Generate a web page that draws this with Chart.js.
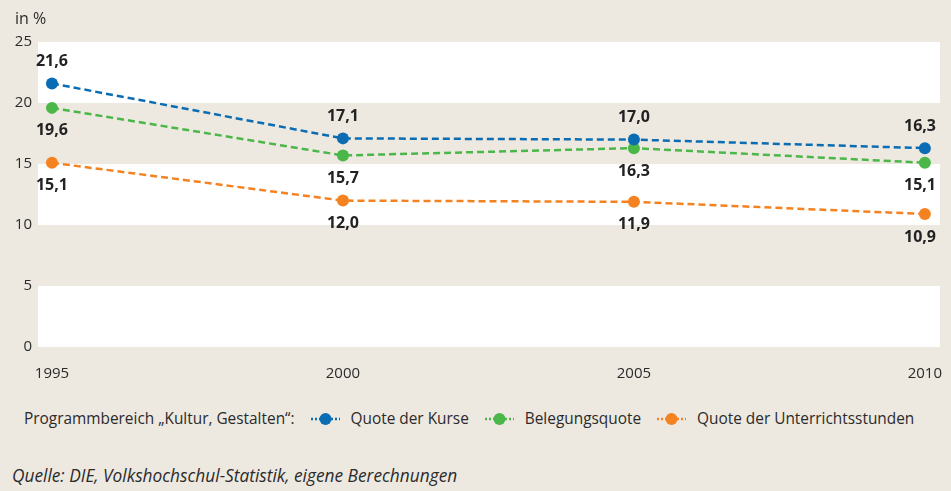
<!DOCTYPE html>
<html lang="de">
<head>
<meta charset="utf-8">
<title>Programmbereich Kultur, Gestalten</title>
<script src="https://cdn.jsdelivr.net/npm/chart.js@4.4.1/dist/chart.umd.min.js"></script>
<style>
  html, body { margin: 0; padding: 0; background: #EDE9E1; }
  body { width: 951px; height: 491px; position: relative; overflow: hidden; font-family: "Open Sans", "Noto Sans", sans-serif; color: #2b2b2b; }
  #chart-box { position: absolute; left: 0; top: 0; width: 951px; height: 392px; }
  #unit { position: absolute; left: 15px; top: 7px; font-size: 16px; }
  #legend { position: absolute; left: 24px; top: 408px; display: flex; align-items: center; font-size: 15.4px; white-space: nowrap; }
  #legend .item { display: flex; align-items: center; margin-left: 15px; }
  #legend svg { margin-right: 10px; }
  #source { position: absolute; left: 12px; top: 464px; font-size: 17.3px; font-style: italic; }
</style>
</head>
<body>
<div id="chart-box"><canvas id="chart" width="951" height="392"></canvas></div>
<div id="unit">in %</div>
<div id="legend"><span>Programmbereich „Kultur, Gestalten“:</span></div>
<div id="source">Quelle: DIE, Volkshochschul-Statistik, eigene Berechnungen</div>

<script>
// ================== DATEN ==================
const jahre = [1995, 2000, 2005, 2010];
const quoteKurse = [21.6, 17.1, 17.0, 16.3];
const belegungsquote = [19.6, 15.7, 16.3, 15.1];
const quoteStunden = [15.1, 12.0, 11.9, 10.9];
const yTicks = [0, 5, 10, 15, 20, 25];

const serienNamen = ['Quote der Kurse', 'Belegungsquote', 'Quote der Unterrichtsstunden'];
const farben = ['#0A6DB3', '#4BB748', '#F58220'];

const fmt = v => v.toLocaleString('de-DE', { minimumFractionDigits: 1, maximumFractionDigits: 1 });
const punkte = arr => jahre.map((j, i) => ({ x: j, y: arr[i] }));

// ================== PLUGINS ==================
// abwechselnd weisse / beige Baender hinter dem Plotbereich
const bandPlugin = {
  id: 'bands',
  beforeDatasetsDraw(chart) {
    const { ctx, chartArea, scales } = chart;
    const y = scales.y;
    ctx.save();
    ctx.fillStyle = '#FFFFFF';
    for (let i = 0; i < yTicks.length - 1; i += 2) {
      const top = y.getPixelForValue(yTicks[i + 1]);
      const bottom = y.getPixelForValue(yTicks[i]);
      ctx.fillRect(chartArea.left, top, chartArea.right - chartArea.left, bottom - top);
    }
    ctx.restore();
  }
};

// Wertebeschriftung ueber/unter den Punkten
const labelPlugin = {
  id: 'valueLabels',
  afterDatasetsDraw(chart) {
    const { ctx, chartArea } = chart;
    ctx.save();
    ctx.font = 'bold 16px "Open Sans", "Noto Sans", sans-serif';
    ctx.fillStyle = '#222222';
    ctx.textAlign = 'center';
    ctx.textBaseline = 'middle';
    chart.data.datasets.forEach((ds, di) => {
      const meta = chart.getDatasetMeta(di);
      meta.data.forEach((pt, i) => {
        const txt = fmt(ds.data[i].y);
        const w = ctx.measureText(txt).width;
        let x = Math.min(pt.x, chartArea.right - 4 - w / 2);
        const y = ds.labelPos === 'above' ? pt.y - 22 : pt.y + 23;
        ctx.fillText(txt, x, y);
      });
    });
    ctx.restore();
  }
};

// ================== CHART ==================
const makeSet = (label, arr, color, pos) => ({
  label, data: punkte(arr), labelPos: pos,
  borderColor: color, backgroundColor: color,
  borderWidth: 2.5, borderDash: [7, 4],
  pointRadius: 6, pointHoverRadius: 6, pointBorderWidth: 0,
  tension: 0
});

const tickFont = { size: 15, family: '"Open Sans", "Noto Sans", sans-serif' };

const chart = new Chart(document.getElementById('chart'), {
  type: 'line',
  data: {
    datasets: [
      makeSet(serienNamen[0], quoteKurse, farben[0], 'above'),
      makeSet(serienNamen[1], belegungsquote, farben[1], 'below'),
      makeSet(serienNamen[2], quoteStunden, farben[2], 'below')
    ]
  },
  plugins: [bandPlugin, labelPlugin],
  options: {
    responsive: false,
    animation: false,
    layout: { padding: { top: 42, right: 11, bottom: 0, left: 0 } },
    plugins: { legend: { display: false }, tooltip: { enabled: false } },
    scales: {
      x: {
        type: 'linear', min: 1994.76, max: 2010.26,
        afterBuildTicks: s => { s.ticks = jahre.map(v => ({ value: v })); },
        afterFit: s => { s.height = 45; s.paddingLeft = 0; s.paddingRight = 0; },
        grid: { display: false, drawTicks: false }, border: { display: false },
        ticks: { padding: 18, color: '#2b2b2b', font: tickFont, callback: v => String(v) }
      },
      y: {
        min: 0, max: 25,
        afterBuildTicks: s => { s.ticks = yTicks.map(v => ({ value: v })); },
        afterFit: s => { s.width = 38; s.paddingTop = 0; s.paddingBottom = 0; },
        grid: { display: false, drawTicks: false }, border: { display: false },
        ticks: { padding: 6, color: '#2b2b2b', font: tickFont }
      }
    }
  }
});

// ================== LEGENDE ==================
const legendEl = document.getElementById('legend');
chart.data.datasets.forEach(ds => {
  const item = document.createElement('span');
  item.className = 'item';
  item.innerHTML =
    `<svg width="31" height="14" viewBox="0 0 31 14">
       <line x1="1" y1="7" x2="30" y2="7" stroke="${ds.borderColor}" stroke-width="2.5" stroke-dasharray="2 2"/>
       <circle cx="15.5" cy="7" r="6" fill="${ds.borderColor}"/>
     </svg><span>${ds.label}</span>`;
  legendEl.appendChild(item);
});
</script>
</body>
</html>
